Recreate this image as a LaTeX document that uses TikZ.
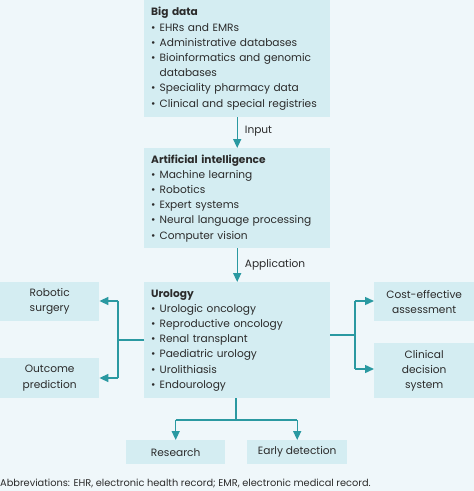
\documentclass[tikz,border=0pt]{standalone}
\usepackage{fontspec}
\setmainfont{Poppins}
\usetikzlibrary{arrows.meta}
\definecolor{bgc}{HTML}{EFF7FA}
\definecolor{boxc}{HTML}{D4EDF2}
\definecolor{linec}{HTML}{2A99A1}
\definecolor{txtc}{HTML}{2B2B2B}
\newcommand{\bul}{\makebox[8.5pt][l]{•}}
\newcommand{\ind}{\hspace*{8.5pt}}
\tikzset{
  box/.style={fill=boxc, draw=none, text=txtc, font=\fontsize{10.6}{15.2}\selectfont, inner sep=0pt},
  listbox/.style={box, anchor=north west, align=left, text width=172pt, inner xsep=7pt, minimum width=186pt},
  smallbox/.style={box, align=center, anchor=north west},
  conn/.style={draw=linec, line width=1.4pt},
  arr/.style={conn, -{Triangle[length=9pt,width=8pt]}},
  lbl/.style={text=txtc, font=\fontsize{10.6}{12}\selectfont, anchor=west, inner sep=0pt}
}
\begin{document}
\begin{tikzpicture}[x=1pt,y=-1pt]
\fill[bgc] (0,0) rectangle (474,491);
\useasboundingbox (0,0) rectangle (474,491);

\node[listbox, minimum height=117pt] (big) at (144,0) {\textbf{Big data}\\
\bul EHRs and EMRs\\
\bul Administrative databases\\
\bul Bioinformatics and genomic\\
\ind databases\\
\bul Speciality pharmacy data\\
\bul Clinical and special registries};

\node[listbox, minimum height=100pt] (ai) at (144,148) {\textbf{Artificial intelligence}\\
\bul Machine learning\\
\bul Robotics\\
\bul Expert systems\\
\bul Neural language processing\\
\bul Computer vision};

\node[listbox, minimum height=116pt] (uro) at (144,282) {\textbf{Urology}\\
\bul Urologic oncology\\
\bul Reproductive oncology\\
\bul Renal transplant\\
\bul Paediatric urology\\
\bul Urolithiasis\\
\bul Endourology};

\node[smallbox, minimum width=99pt, minimum height=39pt] (rob) at (0,282) {Robotic\\surgery};
\node[smallbox, minimum width=99pt, minimum height=40pt] (out) at (0,358) {Outcome\\prediction};
\node[smallbox, minimum width=100pt, minimum height=39pt] (cost) at (374,282) {Cost-effective\\assessment};
\node[smallbox, minimum width=100pt, minimum height=55pt] (cds) at (374,343) {Clinical\\decision\\system};
\node[smallbox, minimum width=99pt, minimum height=24pt] (res) at (126,440) {Research};
\node[smallbox, minimum width=100pt, minimum height=24pt] (early) at (247,440) {Early detection};

% vertical arrows
\draw[arr] (big.south) -- (ai.north) node[lbl, pos=0.45, xshift=7pt] (inp) {Input};
\draw[arr] (ai.south) -- (uro.north) node[lbl, pos=0.5, xshift=7pt] (app) {Application};

% left branch
\coordinate (lj) at (118,340);
\coordinate (lt) at (118,301);
\coordinate (lb) at (118,378);
\draw[conn] (uro.west |- lj) -- (lj);
\draw[conn] (lt) -- (lb);
\draw[arr] (lt) -- (rob.east |- lt);
\draw[arr] (lb) -- (out.east |- lb);

% right branch
\coordinate (rj) at (355,335);
\coordinate (rt) at (355,301);
\coordinate (rb) at (355,369);
\draw[conn] (uro.east |- rj) -- (rj);
\draw[conn] (rt) -- (rb);
\draw[arr] (rt) -- (cost.west |- rt);
\draw[arr] (rb) -- (cds.west |- rb);

% bottom branch
\coordinate (bj) at (236,420);
\coordinate (bl) at (res.north |- bj);
\coordinate (br) at (early.north |- bj);
\draw[conn] (uro.south -| bj) -- (bj);
\draw[conn] (bl) -- (br);
\draw[arr] (bl) -- (res.north);
\draw[arr] (br) -- (early.north);

\node[text=txtc, font=\fontsize{9.8}{11}\selectfont, anchor=west, inner sep=0pt] (abbr) at (0,483) {Abbreviations: EHR, electronic health record; EMR, electronic medical record.};
\end{tikzpicture}
\end{document}
